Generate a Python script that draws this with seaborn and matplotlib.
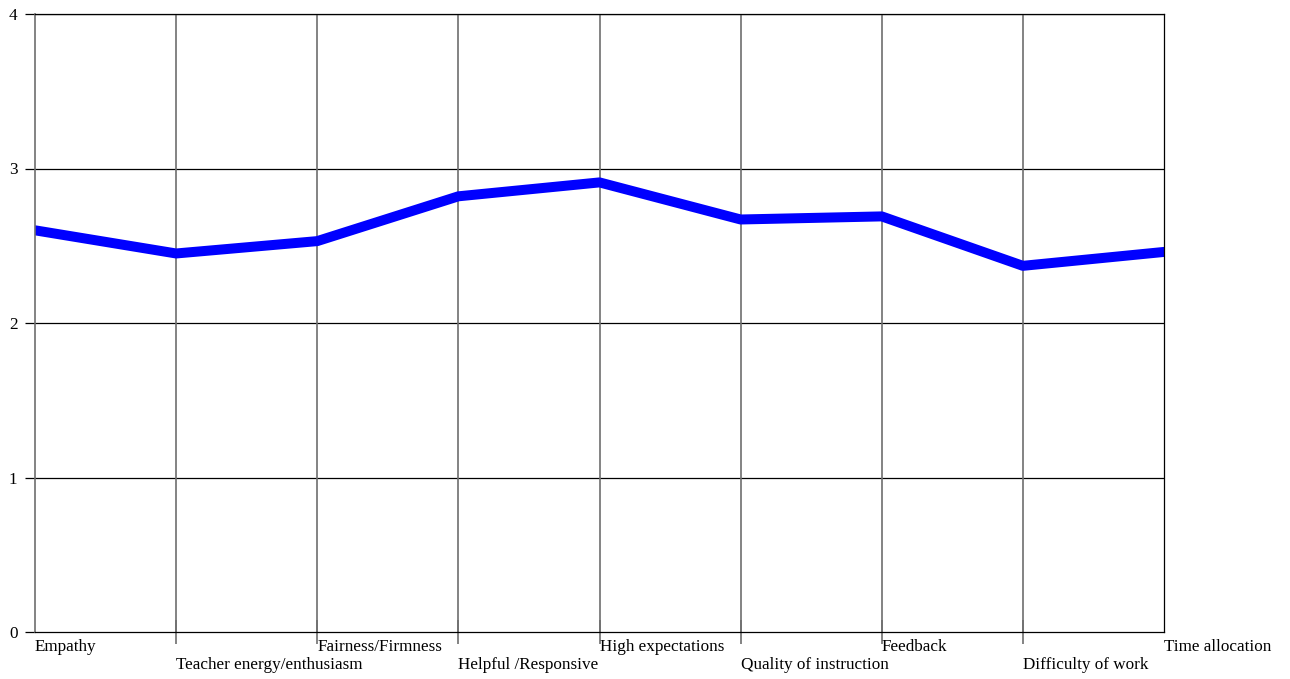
import pandas as pd
import matplotlib
matplotlib.use("Agg")
import matplotlib.pyplot as plt
import seaborn as sns

# categories along the x axis
categories = ["Empathy", "Teacher energy/enthusiasm", "Fairness/Firmness",
              "Helpful /Responsive", "High expectations", "Quality of instruction",
              "Feedback", "Difficulty of work", "Time allocation"]
# mean score per category
scores = [2.60, 2.45, 2.53, 2.82, 2.91, 2.67, 2.69, 2.37, 2.46]
y_ticks = [0, 1, 2, 3, 4]

df = pd.DataFrame({"pos": range(len(categories)), "score": scores})

sns.set_style("white")
plt.rcParams['font.family'] = ['Liberation Serif', 'DejaVu Serif']

fig = plt.figure(figsize=(12.9, 6.79), dpi=100)
ax = fig.add_axes([35/1290, 1-632/679, (1164-35)/1290, (632-14)/679])

sns.lineplot(data=df, x="pos", y="score", color="#0000ff", linewidth=7.2, ax=ax)

ax.set_xlim(0, len(categories)-1)
ax.set_ylim(0, 4)
ax.set_xlabel("")
ax.set_ylabel("")

# grid: horizontal black, vertical gray
for y in y_ticks[1:]:
    ax.axhline(y, color="black", lw=0.9, zorder=0)
for i in range(1, len(categories)-1):
    ax.axvline(i, color="#6e6e6e", lw=1.2, zorder=0)

ax.set_yticks(y_ticks)
ax.set_yticklabels([str(v) for v in y_ticks], fontsize=12.3, color="black")
ax.tick_params(axis="y", length=7, width=0.9, color="black", pad=5.5, left=True)

# inner category ticks only, crossing the bottom axis
ax.set_xticks(range(1, len(categories)-1))
ax.set_xticklabels([])
ax.tick_params(axis="x", direction="inout", length=17, width=1.2, color="#6e6e6e", bottom=True)

# staggered labels, left-aligned at each category position
for i, lab in enumerate(categories):
    y_lab = -0.097 if i % 2 == 0 else -0.213
    ax.text(i, y_lab, lab, ha="left", va="center", fontsize=12.3,
            color="black", clip_on=False)

for side in ["top", "bottom", "right"]:
    ax.spines[side].set_color("black")
    ax.spines[side].set_linewidth(0.9)
ax.spines["left"].set_color("#6e6e6e")
ax.spines["left"].set_linewidth(1.2)

fig.savefig("out.png", dpi=100)
